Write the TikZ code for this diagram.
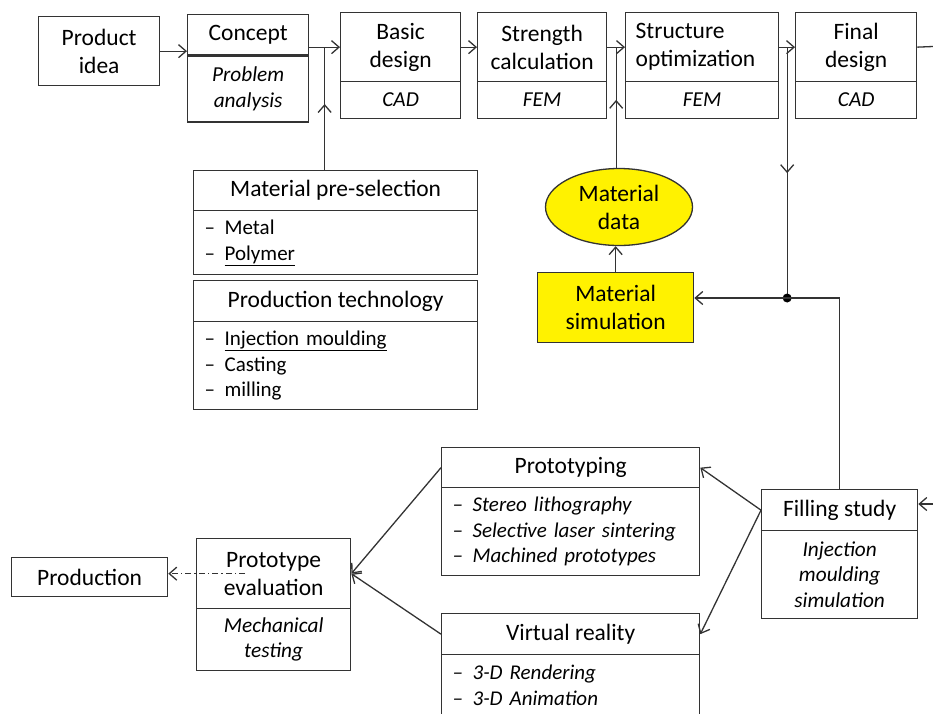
\documentclass[tikz,border=0pt]{standalone}
\usepackage{fontspec}
\setmainfont{Carlito}
\usetikzlibrary{arrows.meta,calc,positioning,shapes.geometric}
\newcommand{\itm}[1]{\makebox[20pt][l]{--}#1}

\begin{document}
\begin{tikzpicture}[x=1pt,y=-1pt, line width=1.3pt, draw=black!80,
    hd/.style={draw, align=center, inner sep=2pt, font=\fontsize{23.5}{28}\selectfont},
    sb/.style={draw, align=center, inner sep=2pt, font=\fontsize{21.3}{25.5}\selectfont\itshape},
    lst/.style={draw, align=left, inner xsep=11pt, font=\fontsize{21}{25.5}\selectfont},
    arr/.style={-{Straight Barb[length=7.5pt,width=13pt]}},
    dashdot/.style={dash pattern=on 6pt off 3pt on 1.5pt off 3pt}]
\clip (0,0) rectangle (933,713);

% top row
\node[hd, anchor=north west, minimum width=121, minimum height=69] (idea) at (38,16) {Product\\idea};
\node[hd, anchor=north west, minimum width=121, minimum height=40] (concept) at (187,14) {Concept};
\node[sb, below=0pt of concept, minimum width=121, minimum height=66] (conceptsub) {Problem\\analysis};
\node[hd, anchor=north west, minimum width=120, minimum height=69] (basic) at (340,12) {Basic\\design};
\node[sb, below=-1.3pt of basic, minimum width=120, minimum height=37] (basicsub) {CAD};
\node[hd, anchor=north west, minimum width=129, minimum height=69] (strength) at (477,12) {Strength\\calculation};
\node[sb, below=-1.3pt of strength, minimum width=129, minimum height=37] (strengthsub) {FEM};
\node[hd, anchor=north west, inner xsep=10pt, text width=133, minimum height=69, align=left] (struct) at (625,12) {Structure\\optimization};
\node[sb, below=-1.3pt of struct, minimum width=153, minimum height=37] (structsub) {FEM};
\node[hd, anchor=north west, minimum width=121, minimum height=69] (final) at (795,12) {Final\\design};
\node[sb, below=-1.3pt of final, minimum width=121, minimum height=37] (finalsub) {CAD};

% material and technology
\node[hd, anchor=north west, minimum width=284, minimum height=40] (presel) at (193,170) {Material pre-selection};
\node[lst, below=-1.3pt of presel, text width=262, minimum height=64] (preselsub) {\itm{Metal}\\\itm{\underline{Polymer}}};
\node[hd, anchor=north west, minimum width=284, minimum height=41] (prodtech) at (193,280) {Production technology};
\node[lst, below=-1.3pt of prodtech, text width=262, minimum height=88] (prodtechsub) {\itm{\underline{Injection moulding}}\\\itm{Casting}\\\itm{milling}};

\node[hd, ellipse, fill=yellow, inner sep=0pt, minimum width=147, minimum height=77] (matdata) at (619,207) {Material\\data};
\node[hd, anchor=north west, fill=yellow, minimum width=156, minimum height=70] (matsim) at (537,272) {Material\\simulation};

% prototypes
\node[hd, anchor=north west, minimum width=156, minimum height=41] (fill) at (761,489) {Filling study};
\node[sb, below=-1.3pt of fill, minimum width=156, minimum height=88] (fillsub) {Injection\\moulding\\simulation};
\node[hd, anchor=north west, minimum width=258, minimum height=40] (proto) at (441,447) {Prototyping};
\node[lst, below=-1.3pt of proto, text width=236, minimum height=88, font=\fontsize{21}{25.5}\selectfont\itshape] (protosub) {\itm{Stereo lithography}\\\itm{Selective laser sintering}\\\itm{Machined prototypes}};
\node[hd, anchor=north west, minimum width=258, minimum height=41] (vr) at (441,613) {Virtual reality};
\node[lst, below=-1.3pt of vr, text width=236, minimum height=61, font=\fontsize{21}{25.5}\selectfont\itshape] (vrsub) {\itm{3-D Rendering}\\\itm{3-D Animation}};
\node[hd, anchor=north west, minimum width=154, minimum height=70] (eval) at (196,538) {Prototype\\evaluation};
\node[sb, below=-1.3pt of eval, minimum width=154, minimum height=62] (evalsub) {Mechanical\\testing};
\node[hd, anchor=north west, minimum width=156, minimum height=39] (production) at (11,557) {Production};

% connectors
\coordinate (t1) at ($(concept.east |- basic.west)!0.5!(basic.west)$);
\coordinate (t2) at ($(strength.east)!0.5!(struct.west)$);
\coordinate (t3) at ($(struct.east)!0.5!(final.west)$);
\coordinate (jn) at (787,298);
\coordinate (rtop) at (933,46.5);
\coordinate (rin) at (933,504);

\draw[arr] (idea.east) -- (idea.east -| concept.west);
\draw[arr] (concept.east |- basic.west) -- (basic.west);
\foreach \a/\b in {basic/strength,strength/struct,struct/final}
    \draw[arr] (\a.east) -- (\b.west);
\draw (final.east) -- (rtop);

\draw (t1) -- (t1 |- presel.north);
\draw[arr] (t1 |- presel.north) -- ++(0,-66);
\draw[arr] (matsim.north) -- (matsim.north |- matdata.south);
\draw (t2) -- (t2 |- matdata.north);
\draw[arr] (t2 |- matdata.north) -- ++(0,-68);
\draw (t3) -- (t3 |- jn);
\draw[arr] (t3) -- ++(0,126);
\fill[black] (t3 |- jn) circle (4.5pt);
\draw[arr] (fill.north) |- (jn) -- (jn -| matsim.east);

\draw[arr] (rin) -- (rin -| fill.east);
\draw[arr] (fill.west) -- (proto.east);
\draw[arr] (fill.west) -- (vr.east);
\draw[arr] (proto.west) -- (eval.east);
\draw[arr] (vr.west) -- (eval.east);
\draw[arr, dashdot] ($(eval.west)+(49,0)$) -- (eval.west -| production.east);

\end{tikzpicture}
\end{document}
